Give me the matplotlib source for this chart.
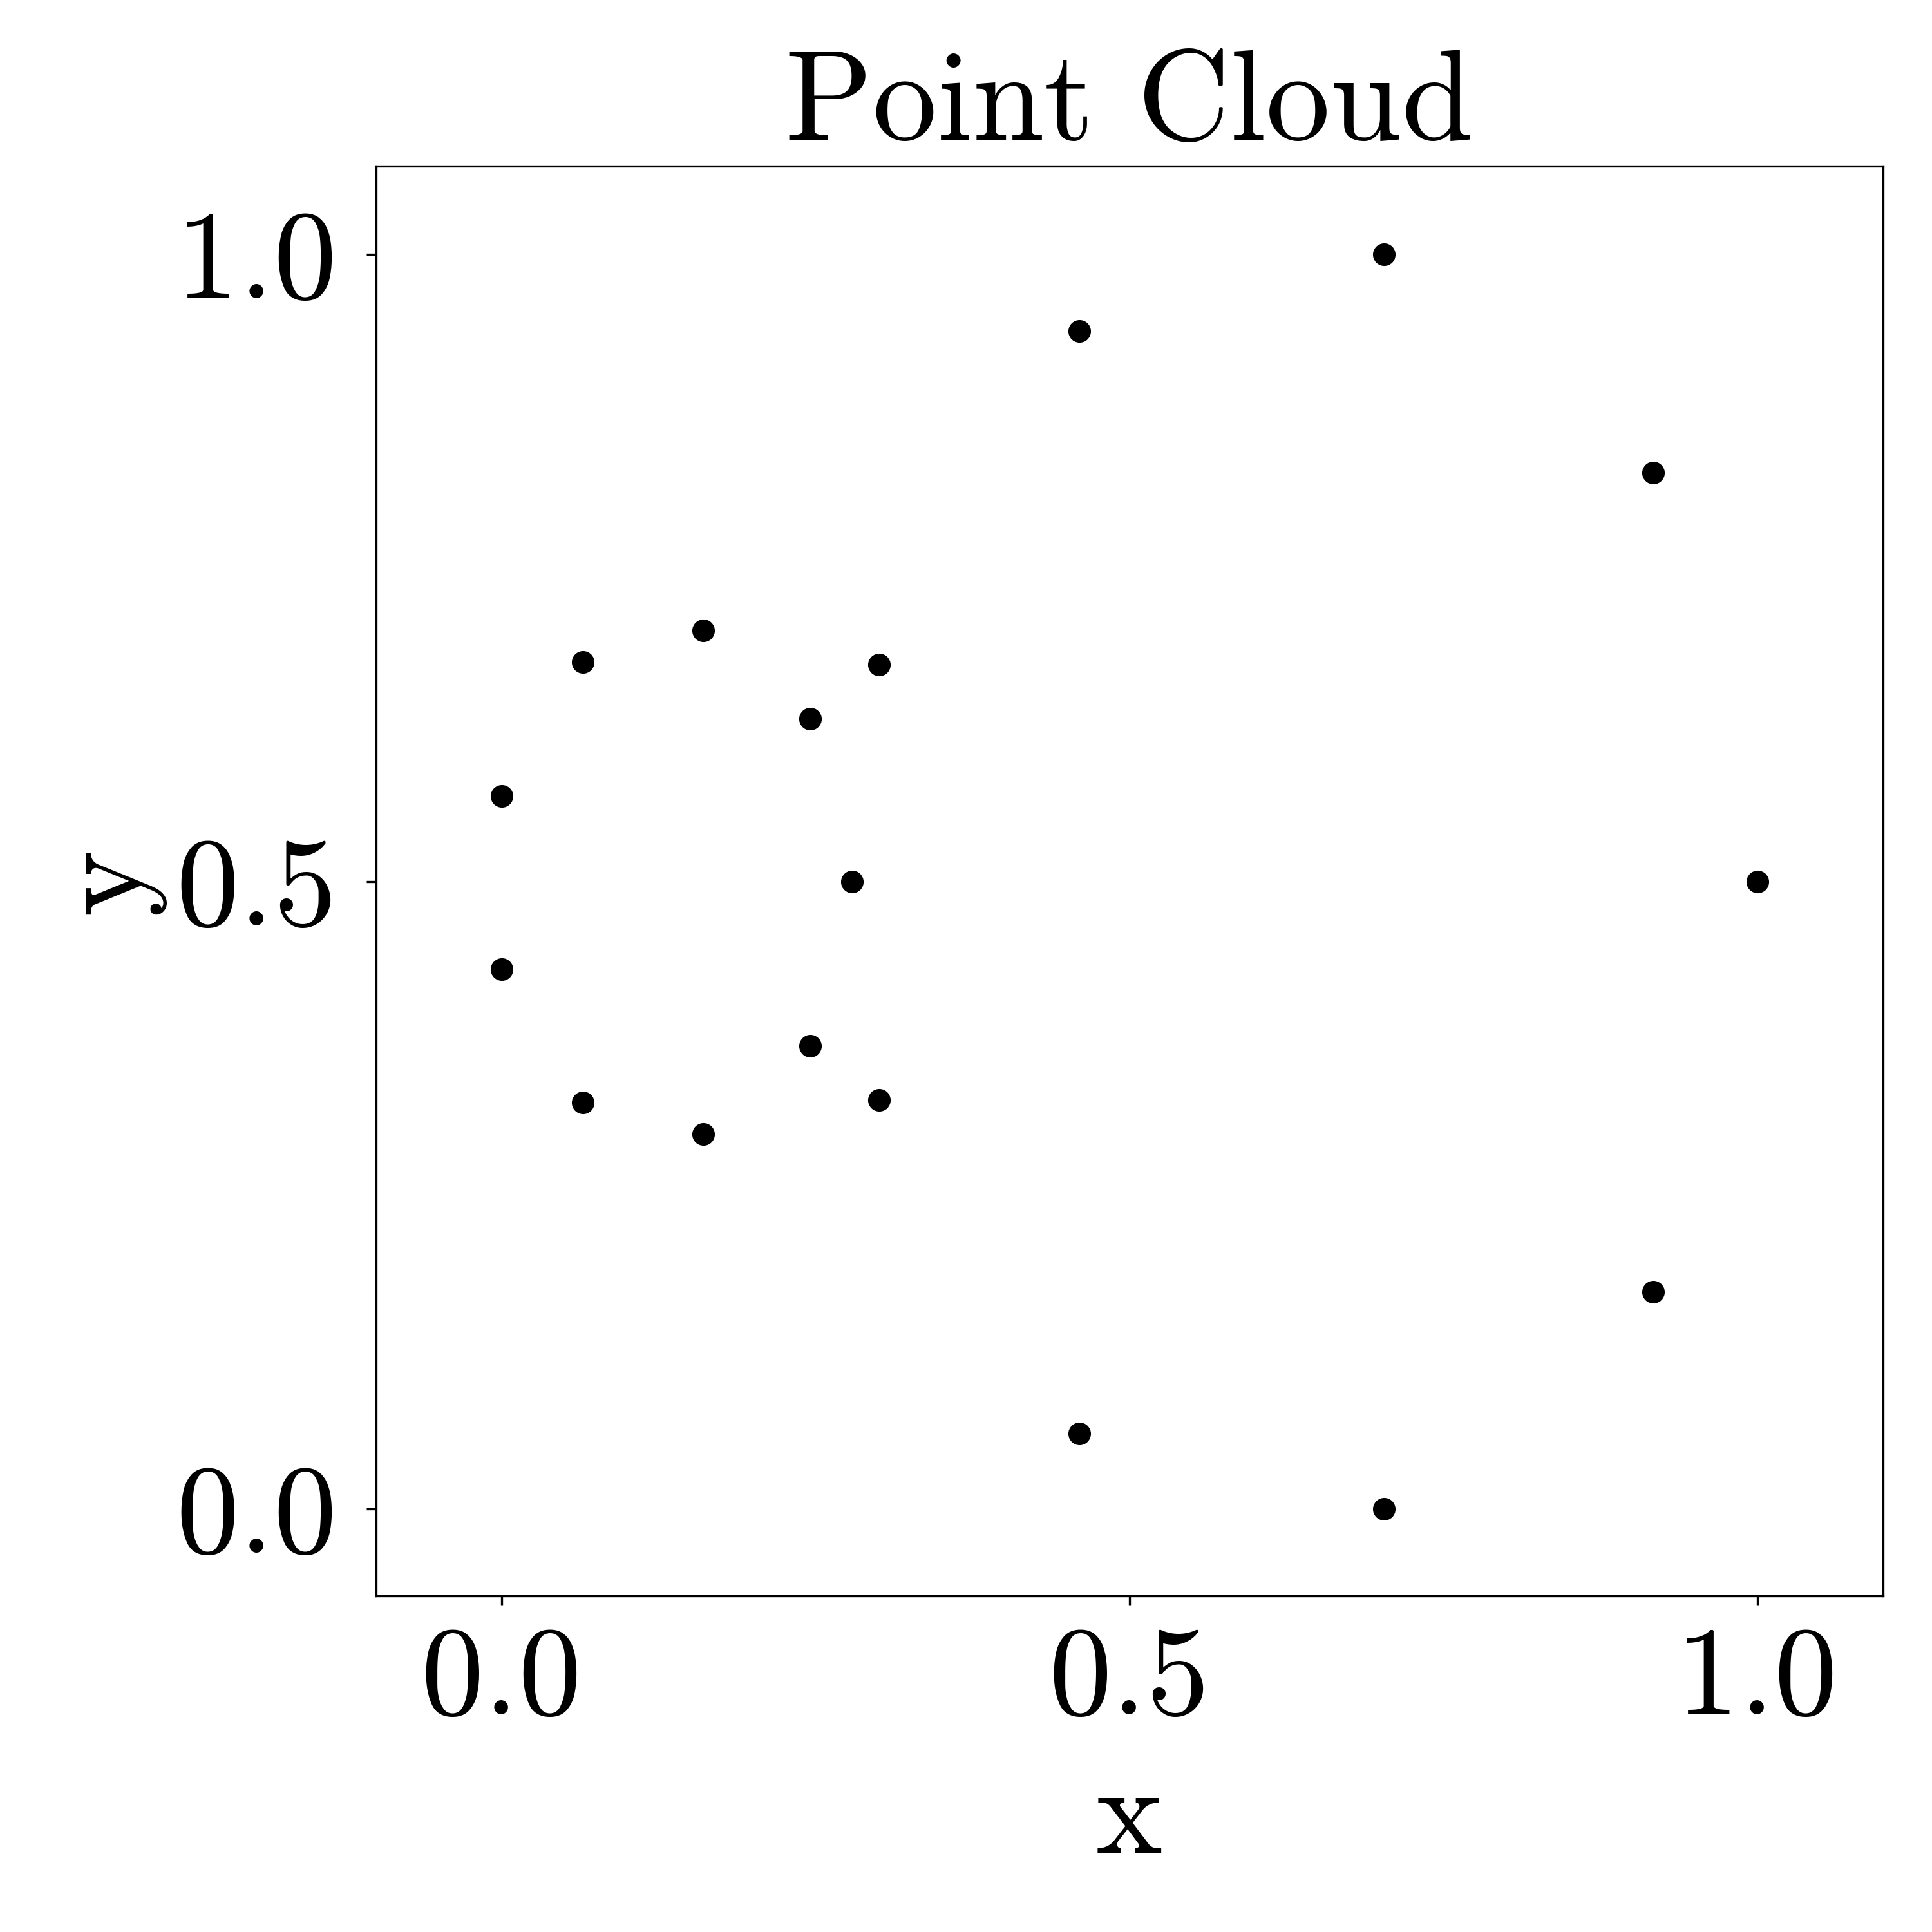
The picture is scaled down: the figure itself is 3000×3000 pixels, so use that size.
import matplotlib
matplotlib.use('Agg')
import matplotlib.pyplot as plt

# point coordinates
xs = [0.0, 0.0, 0.065, 0.065, 0.161, 0.161, 0.246, 0.246, 0.301, 0.301,
      0.279, 0.460, 0.460, 0.703, 0.703, 0.917, 0.917, 1.0]
ys = [0.568, 0.430, 0.675, 0.324, 0.700, 0.299, 0.630, 0.369, 0.673, 0.326,
      0.500, 0.939, 0.060, 1.0, 0.0, 0.826, 0.173, 0.5]
ticks = [0.0, 0.5, 1.0]

plt.rcParams['font.family'] = 'cmr10'
plt.rcParams['mathtext.fontset'] = 'cm'
plt.rcParams['axes.unicode_minus'] = False
plt.rcParams['axes.formatter.use_mathtext'] = True

fig = plt.figure(figsize=(10, 10), dpi=300)
ax = fig.add_axes([0.1945, 0.1741, 0.78, 0.7398])

ax.scatter(xs, ys, s=55, color='black', zorder=3)

ax.set_xlim(-0.1, 1.1)
ax.set_ylim(-0.069, 1.07)
ax.set_xticks(ticks)
ax.set_yticks(ticks)
ax.set_xticklabels([f'{t:.1f}' for t in ticks])
ax.set_yticklabels([f'{t:.1f}' for t in ticks])
ax.tick_params(labelsize=47)
ax.tick_params(axis='x', pad=8)
ax.tick_params(axis='y', pad=11)

ax.set_title('Point Cloud', fontsize=48, pad=10)
ax.set_xlabel('x', fontsize=47, labelpad=10)
ax.set_ylabel('y', fontsize=47, labelpad=4)

plt.savefig('out.png', dpi=300)
